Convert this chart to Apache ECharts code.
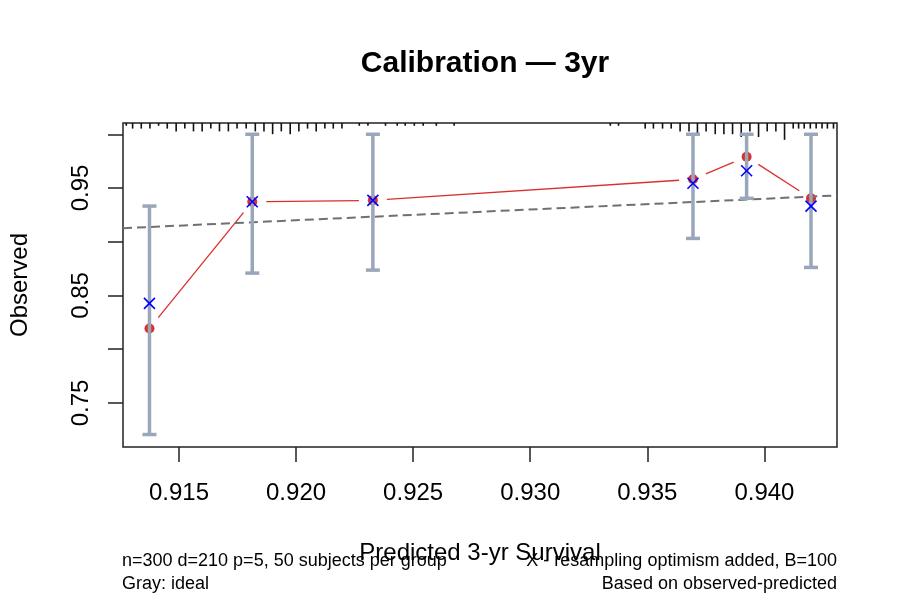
<!DOCTYPE html>
<html>
<head>
<meta charset="utf-8">
<script src="https://cdn.jsdelivr.net/npm/echarts@6/dist/echarts.min.js"></script>
<style>
  html, body { margin: 0; padding: 0; background: #fff; }
  #chart { width: 900px; height: 600px; }
</style>
</head>
<body>
<div id="chart"></div>
<script>
// calibration groups (predicted vs observed)
const predicted = [0.91374, 0.91813, 0.92328, 0.93695, 0.93924, 0.94199];
const observed  = [0.8193, 0.9372, 0.9385, 0.9581, 0.9791, 0.9404];
const corrected = [0.8426, 0.9372, 0.9385, 0.9544, 0.9661, 0.9332];
const lower     = [0.7206, 0.8708, 0.8736, 0.9031, 0.9404, 0.8761];
const upper     = [0.9332, 1.0, 1.0, 1.0, 1.0, 1.0];

// distribution of predictions (rug on top), relative counts
const rugX = [0.91275, 0.91302, 0.91339, 0.91376, 0.91413, 0.91450, 0.91488, 0.91525, 0.91562, 0.91599,
  0.91636, 0.91673, 0.91711, 0.91748, 0.91787, 0.91826, 0.91863, 0.91900, 0.91937, 0.91975,
  0.92012, 0.92049, 0.92086, 0.92123, 0.92159, 0.92196, 0.92270, 0.92307, 0.92382, 0.92432,
  0.92466, 0.92505, 0.92543, 0.92599, 0.92675,
  0.93342, 0.93377, 0.93491, 0.93526, 0.93565, 0.93602, 0.93640, 0.93678, 0.93714, 0.93751,
  0.93790, 0.93827, 0.93864, 0.93901, 0.93938, 0.93975, 0.94012, 0.94049, 0.94086, 0.94123,
  0.94146, 0.94170, 0.94196, 0.94221, 0.94246, 0.94269, 0.94295];
const rugN = [1, 2, 2, 2, 1, 2, 3, 2, 3, 3,
  2, 3, 3, 2, 2, 3, 3, 4, 3, 4,
  3, 2, 3, 2, 2, 2, 1, 1, 1, 1,
  1, 1, 1, 1, 1,
  1, 1, 2, 2, 2, 2, 3, 3, 4, 3,
  4, 4, 4, 5, 3, 5, 3, 3, 6, 2,
  2, 2, 2, 2, 2, 2, 2];

const xTicks = [0.915, 0.920, 0.925, 0.930, 0.935, 0.940];
const yTicks = [0.75, 0.80, 0.85, 0.90, 0.95, 1.00];
const yLabels = [0.75, 0.85, 0.95];
const XMIN = 0.91261, XMAX = 0.94310;
const YMIN = 0.7090, YMAX = 1.0105;

const FONT = '"Liberation Sans", Arial, sans-serif';
const RED = '#d9302c';
const BAR = '#9aa6ba';

const chart = echarts.init(document.getElementById('chart'));

const segs = [];
for (let i = 0; i < predicted.length - 1; i++) {
  segs.push([predicted[i], observed[i], predicted[i + 1], observed[i + 1]]);
}

const option = {
  animation: false,
  textStyle: { fontFamily: FONT },
  title: {
    text: 'Calibration \u2014 3yr',
    left: 480,
    textAlign: 'center',
    top: 44,
    textStyle: { fontSize: 30, fontWeight: 'bold', color: '#000', fontFamily: FONT }
  },
  grid: {
    left: 123, top: 123, right: 63, bottom: 153,
    show: true, borderColor: '#222', borderWidth: 1.5
  },
  xAxis: {
    type: 'value', min: XMIN, max: XMAX,
    name: 'Predicted 3-yr Survival', nameLocation: 'middle', nameGap: 94,
    nameTextStyle: { fontSize: 24, color: '#000', fontFamily: FONT },
    axisLine: { show: false },
    splitLine: { show: false },
    axisTick: { customValues: xTicks, length: 15, lineStyle: { color: '#222', width: 1.5 } },
    axisLabel: {
      customValues: xTicks, margin: 34, fontSize: 24, color: '#000', fontFamily: FONT,
      formatter: v => v.toFixed(3)
    }
  },
  yAxis: {
    type: 'value', min: YMIN, max: YMAX,
    name: 'Observed', nameLocation: 'middle', nameGap: 91, nameRotate: 90,
    nameTextStyle: { fontSize: 24, color: '#000', fontFamily: FONT },
    axisLine: { show: false },
    splitLine: { show: false },
    axisTick: { customValues: yTicks, length: 15, lineStyle: { color: '#222', width: 1.5 } },
    axisLabel: {
      customValues: yLabels, margin: 30, rotate: 90, align: 'center', verticalAlign: 'bottom',
      fontSize: 24, color: '#000', fontFamily: FONT,
      formatter: v => v.toFixed(2)
    }
  },
  graphic: [
    { type: 'text', left: 122, top: 552, style: { text: 'n=300 d=210 p=5, 50 subjects per group', fill: '#000', font: '18px ' + FONT } },
    { type: 'text', right: 63, top: 552, style: { text: 'X - resampling optimism added, B=100', fill: '#000', font: '18px ' + FONT } },
    { type: 'text', left: 122, top: 575, style: { text: 'Gray: ideal', fill: '#000', font: '18px ' + FONT } },
    { type: 'text', right: 63, top: 575, style: { text: 'Based on observed-predicted', fill: '#000', font: '18px ' + FONT } }
  ],
  series: [
    {
      // rug of predicted values along the top
      type: 'custom',
      data: rugX.map((x, i) => [x, rugN[i]]),
      encode: { x: 0 },
      silent: true,
      renderItem: (params, api) => {
        const px = api.coord([api.value(0), YMAX])[0];
        const top = params.coordSys.y;
        return {
          type: 'line',
          shape: { x1: px, y1: top, x2: px, y2: top + api.value(1) * 2.8 },
          style: { stroke: '#111', lineWidth: 1.6 }
        };
      }
    },
    {
      type: 'scatter',
      data: predicted.map((x, i) => [x, observed[i]]),
      symbol: 'circle', symbolSize: 10,
      itemStyle: { color: RED, opacity: 1 },
      z: 2
    },
    {
      // connecting line with gaps at the points
      type: 'custom',
      data: segs,
      encode: { x: [0, 2], y: [1, 3] },
      z: 2,
      renderItem: (params, api) => {
        const a = api.coord([api.value(0), api.value(1)]);
        const b = api.coord([api.value(2), api.value(3)]);
        const dx = b[0] - a[0], dy = b[1] - a[1];
        const len = Math.sqrt(dx * dx + dy * dy);
        const g = 14;
        if (len <= 2 * g) return null;
        const ux = dx / len, uy = dy / len;
        return {
          type: 'line',
          shape: { x1: a[0] + ux * g, y1: a[1] + uy * g, x2: b[0] - ux * g, y2: b[1] - uy * g },
          style: { stroke: RED, lineWidth: 1.3 }
        };
      }
    },
    {
      type: 'line',
      data: [[XMIN, XMIN], [XMAX, XMAX]],
      symbol: 'none',
      lineStyle: { color: '#707070', width: 2, type: [9, 5] },
      z: 3
    },
    {
      // error bars
      type: 'custom',
      data: predicted.map((x, i) => [x, lower[i], upper[i]]),
      encode: { x: 0, y: [1, 2] },
      z: 4,
      renderItem: (params, api) => {
        const lo = api.coord([api.value(0), api.value(1)]);
        const hi = api.coord([api.value(0), api.value(2)]);
        const hw = 7;
        const st = { stroke: BAR, lineWidth: 3.5 };
        return {
          type: 'group',
          children: [
            { type: 'line', shape: { x1: lo[0], y1: lo[1], x2: hi[0], y2: hi[1] }, style: st },
            { type: 'line', shape: { x1: lo[0] - hw, y1: lo[1], x2: lo[0] + hw, y2: lo[1] }, style: st },
            { type: 'line', shape: { x1: hi[0] - hw, y1: hi[1], x2: hi[0] + hw, y2: hi[1] }, style: st }
          ]
        };
      }
    },
    {
      // optimism-corrected estimates (X)
      type: 'custom',
      data: predicted.map((x, i) => [x, corrected[i]]),
      encode: { x: 0, y: 1 },
      z: 5,
      renderItem: (params, api) => {
        const p = api.coord([api.value(0), api.value(1)]);
        const r = 5.5;
        const st = { stroke: '#0000ff', lineWidth: 1.6 };
        return {
          type: 'group',
          children: [
            { type: 'line', shape: { x1: p[0] - r, y1: p[1] - r, x2: p[0] + r, y2: p[1] + r }, style: st },
            { type: 'line', shape: { x1: p[0] - r, y1: p[1] + r, x2: p[0] + r, y2: p[1] - r }, style: st }
          ]
        };
      }
    }
  ]
};

chart.setOption(option);
</script>
</body>
</html>
